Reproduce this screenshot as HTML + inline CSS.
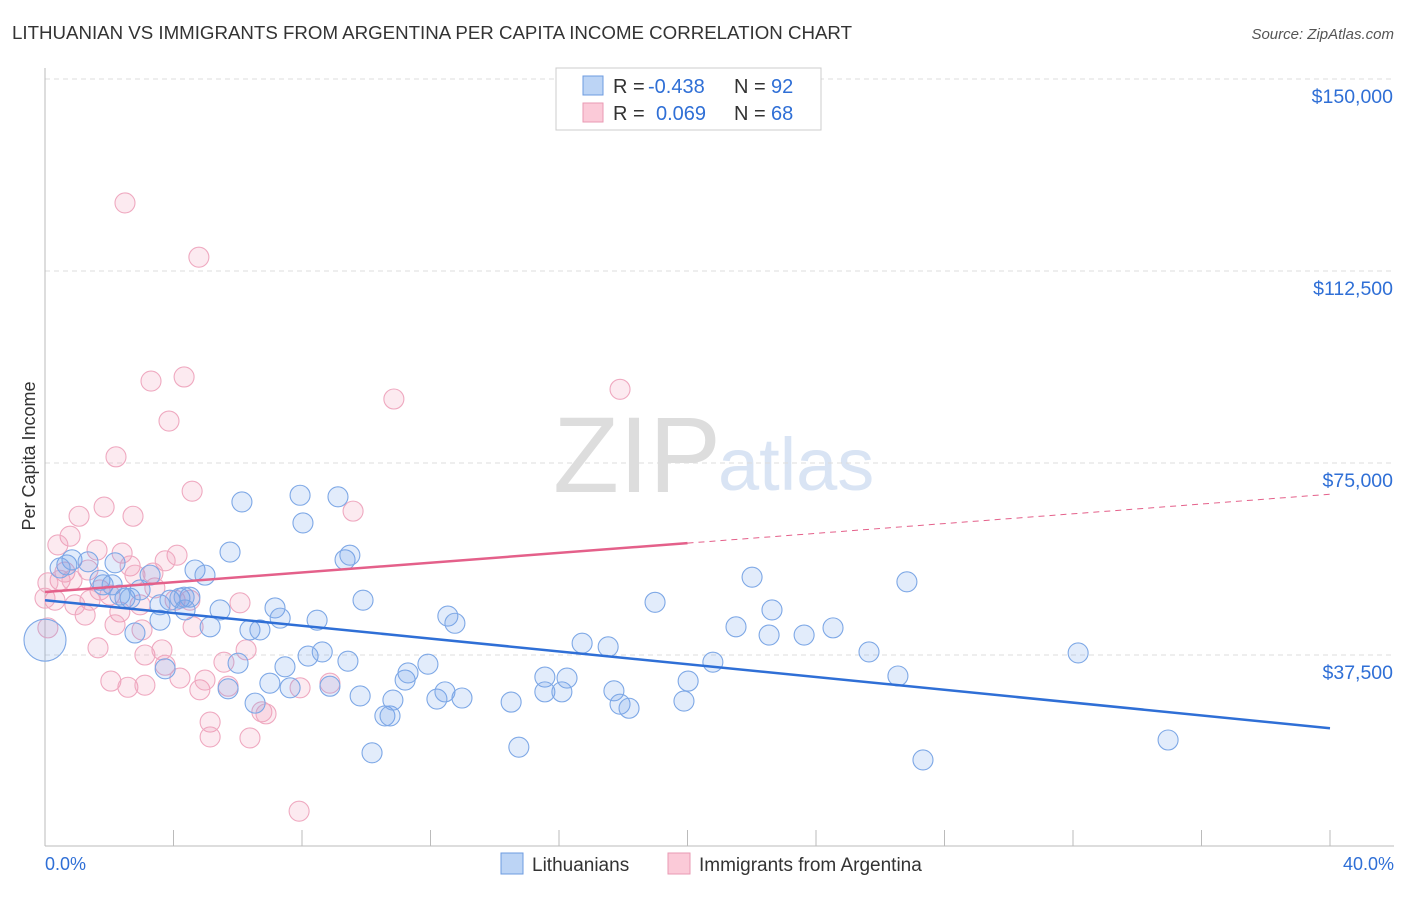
<!DOCTYPE html>
<html><head><meta charset="utf-8">
<style>
body{margin:0;background:#fff;font-family:"Liberation Sans",sans-serif;}
svg text{font-family:"Liberation Sans",sans-serif;}
</style></head>
<body>
<svg id="chart" width="1406" height="892" xmlns="http://www.w3.org/2000/svg">
<text x="12" y="39" font-size="18.7" fill="#333">LITHUANIAN VS IMMIGRANTS FROM ARGENTINA PER CAPITA INCOME CORRELATION CHART</text>
<text x="1394" y="39" font-size="15" fill="#555" font-style="italic" text-anchor="end">Source: ZipAtlas.com</text>
<text x="35" y="456" font-size="18" fill="#333" text-anchor="middle" transform="rotate(-90 35 456)">Per Capita Income</text>
<text x="553" y="492" font-size="108" fill="#ddd" font-family="Liberation Serif">ZIP</text>
<text x="718" y="490" font-size="74" fill="#d9e4f4">atlas</text>
<g id="grid"></g><g id="pts"></g><g id="lines"></g>
<g>
<rect x="556" y="68" width="265" height="62" fill="#fff" stroke="#ccc"/>
<rect x="583" y="76" width="20" height="19" fill="#bcd4f5" stroke="#6d9be0"/>
<rect x="583" y="103" width="20" height="19" fill="#fbcad8" stroke="#ea9ab3"/>
<text x="613" y="93" font-size="20" fill="#333">R =</text>
<text x="648" y="93" font-size="20" fill="#2f6fd6">-0.438</text>
<text x="734" y="93" font-size="20" fill="#333">N =</text>
<text x="771" y="93" font-size="20" fill="#2f6fd6">92</text>
<text x="613" y="120" font-size="20" fill="#333">R =</text>
<text x="656" y="120" font-size="20" fill="#2f6fd6">0.069</text>
<text x="734" y="120" font-size="20" fill="#333">N =</text>
<text x="771" y="120" font-size="20" fill="#2f6fd6">68</text>
</g>
<g>
<rect x="501" y="853" width="22" height="21" fill="#bcd4f5" stroke="#6d9be0"/>
<text x="532" y="871" font-size="19" fill="#333">Lithuanians</text>
<rect x="668" y="853" width="22" height="21" fill="#fbcad8" stroke="#ea9ab3"/>
<text x="699" y="871" font-size="19" fill="#333">Immigrants from Argentina</text>
</g>
<text x="45" y="870" font-size="18" fill="#2f6fd6">0.0%</text>
<text x="1394" y="870" font-size="18" fill="#2f6fd6" text-anchor="end">40.0%</text>
</svg>
<script>
const yTicks=[37500,75000,112500,150000];
const yTickLabels=["$37,500","$75,000","$112,500","$150,000"];
const blueX=[0.68,0.84,0.47,1.34,1.71,2.18,1.81,2.49,2.33,2.65,2.96,3.27,3.58,3.89,4.20,4.51,4.67,4.98,2.80,3.74,3.58,4.36,5.14,5.45,5.76,6.01,6.13,6.38,6.54,6.69,7.00,7.16,7.32,7.47,7.63,7.94,8.03,8.19,8.47,8.63,8.87,9.12,9.34,9.49,9.43,9.81,9.90,10.18,10.58,10.74,10.83,11.21,11.30,11.92,12.20,12.45,12.54,12.76,12.98,14.51,14.75,15.56,15.56,16.09,16.25,16.72,17.53,17.71,17.90,18.18,18.99,19.89,20.02,20.79,21.51,22.01,22.54,22.63,23.63,24.53,25.65,26.55,26.83,27.33,32.16,34.96,5.70,4.33,2.09];
const blueY=[55.1,56.1,54.5,55.7,52.1,55.5,51.2,48.6,49.2,48.6,50.2,53.1,47.3,48.2,48.6,48.8,54.1,53.1,41.8,34.8,44.3,46.3,43.0,46.3,57.6,35.9,67.4,42.4,28.1,42.4,32.0,46.7,44.7,35.2,31.1,68.7,63.3,37.3,44.3,38.1,31.4,68.4,56.1,57.0,36.3,29.5,48.2,18.4,25.6,25.6,28.7,32.6,34.0,35.7,28.9,30.3,45.1,43.7,29.1,28.3,19.5,33.2,30.3,30.3,33.0,39.8,39.1,30.5,27.9,27.1,47.8,28.5,32.4,36.1,43.0,52.7,41.4,46.3,41.4,42.8,38.1,33.4,51.8,17.0,37.9,20.9,30.9,48.8,51.2];
const pinkX=[2.49,4.79,3.30,4.33,3.86,10.86,17.90,2.21,4.58,1.84,2.74,1.06,9.59,0.78,1.62,2.40,4.11,3.74,2.65,0.62,1.34,0.47,0.09,0.84,0.31,0,1.71,1.40,2.02,2.96,3.42,4.05,2.33,1.25,3.02,4.61,6.07,0.93,2.18,1.65,3.11,3.74,4.20,2.05,2.58,3.11,4.82,4.98,5.70,5.57,6.26,6.75,6.88,5.14,5.14,6.38,7.94,8.87,7.91,3.64,0.09,2.80,3.36,4.51,0.40];
const pinkY=[125.8,115.2,91.0,91.8,83.2,87.5,89.4,76.2,69.5,66.4,64.6,64.6,65.6,60.7,58.0,57.4,57.0,55.9,54.9,53.7,54.1,52.1,51.6,52.1,48.2,48.6,50.2,48.2,49.2,47.3,50.6,48.2,45.9,45.3,42.4,43.0,47.7,47.3,43.4,38.9,37.5,35.5,33.0,32.4,31.2,31.6,30.7,32.6,31.4,36.1,38.5,26.4,26.0,24.4,21.5,21.3,31.1,32.0,7.0,38.5,42.8,53.1,53.5,48.2,59.0];
const blueTrend=[48.2,23.2];
const pinkTrend=[49.8,68.9];
const NS="http://www.w3.org/2000/svg";
const X=p=>45+p/40*1285;
const Y=k=>847-k*1000/37500*192;
function mk(tag,attrs,parent){const e=document.createElementNS(NS,tag);for(const k in attrs)e.setAttribute(k,attrs[k]);parent.appendChild(e);return e;}
const grid=document.getElementById('grid');
yTicks.forEach((t,i)=>{const y=Y(t/1000);
 const l=mk('line',{x1:45,x2:1394,y1:y,y2:y,stroke:'#ddd','stroke-dasharray':'5,4'},grid);
 
 
 const tx=mk('text',{x:1393,y:y+24,'font-size':19.5,fill:'#2f6fd6','text-anchor':'end'},grid);
 tx.textContent=yTickLabels[i];
 
 
});
mk('line',{x1:45,x2:45,y1:68,y2:846,stroke:'#bbb'},grid);
mk('line',{x1:45,x2:1394,y1:846,y2:846,stroke:'#bbb'},grid);
for(let i=0;i<=10;i++){const t=mk('line',{x1:X(i*4),x2:X(i*4),y1:830,y2:846,stroke:'#bbb'},grid);
 
 }
const pts=document.getElementById('pts');
pinkX.forEach((x,i)=>{const c=mk('circle',{cx:X(x),cy:Y(pinkY[i]),r:10,fill:'rgba(240,150,180,0.2)',stroke:'#efa9c0','stroke-width':1.1},pts);
 
 });
blueX.forEach((x,i)=>{const c=mk('circle',{cx:X(x),cy:Y(blueY[i]),r:10,fill:'rgba(110,160,235,0.2)',stroke:'#7ea8e6','stroke-width':1.1},pts);
 
 });
const big=mk('circle',{cx:X(0),cy:Y(40.4),r:21,fill:'rgba(110,160,235,0.18)',stroke:'#7ea8e6','stroke-width':1.1},pts);


const lines=document.getElementById('lines');
const bl=mk('line',{x1:X(0),y1:Y(blueTrend[0]),x2:X(40),y2:Y(blueTrend[1]),stroke:'#2f6fd6','stroke-width':2.5},lines);


const pm=(pinkTrend[0]+pinkTrend[1])/2;
const pl=mk('line',{x1:X(0),y1:Y(pinkTrend[0]),x2:X(20),y2:Y(pm),stroke:'#e4608a','stroke-width':2.5},lines);


const pd=mk('line',{x1:X(20),y1:Y(pm),x2:X(40),y2:Y(pinkTrend[1]),stroke:'#e4608a','stroke-width':1,'stroke-dasharray':'6,5'},lines);


</script>
</body></html>
